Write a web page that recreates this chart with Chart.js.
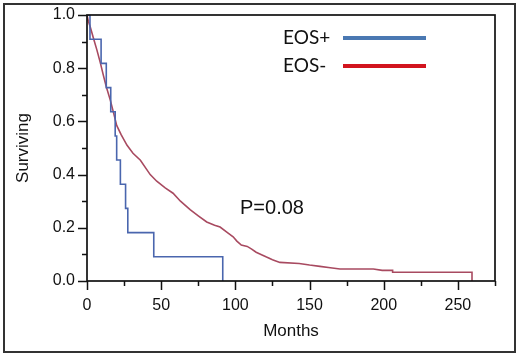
<!DOCTYPE html>
<html>
<head>
<meta charset="utf-8">
<script src="https://cdn.jsdelivr.net/npm/chart.js@4/dist/chart.umd.min.js"></script>
<style>
  html, body { margin: 0; padding: 0; background: #fff; }
  #wrap { width: 520px; height: 356px; }
</style>
</head>
<body>
<div id="wrap"><canvas id="km"></canvas></div>
<script>
// Kaplan-Meier curves (months, surviving fraction)
const eosPosMonths = [0, 2, 9.5, 13, 16, 19, 20, 22.5, 26, 27.5, 45, 91.5];
const eosPosSurv   = [1, 0.909, 0.818, 0.727, 0.636, 0.545, 0.455, 0.364, 0.273, 0.182, 0.091, 0];

const eosNegMonths = [0, 1, 2.2, 4.5, 6.7, 9, 11, 13, 15.7, 18, 20, 23, 27, 31, 36, 42.6, 47, 52.7, 58, 63,
  69.5, 75, 80.7, 86, 89.7, 94, 98.5, 101, 104, 108, 111, 114, 118, 121, 125, 130, 143, 150, 157, 164,
  170.5, 193, 199, 206, 206, 259.5, 259.5];
const eosNegSurv = [1, 0.975, 0.955, 0.91, 0.868, 0.82, 0.774, 0.73, 0.68, 0.63, 0.585, 0.55, 0.51, 0.48, 0.454, 0.40, 0.375, 0.35, 0.33, 0.30,
  0.268, 0.245, 0.222, 0.21, 0.203, 0.185, 0.166, 0.15, 0.135, 0.13, 0.12, 0.108, 0.098, 0.09, 0.08, 0.07, 0.066, 0.06, 0.055, 0.05,
  0.045, 0.045, 0.04, 0.04, 0.033, 0.033, 0];

const yTicks = [0, 0.2, 0.4, 0.6, 0.8, 1.0];
const xTicks = [0, 50, 100, 150, 200, 250];
const seriesNames = ['EOS+', 'EOS-'];
const pValueText = 'P=0.08';

const FONT = "'Liberation Sans', Arial, sans-serif";

function toPoints(xs, ys) {
  return xs.map((x, i) => ({ x: x, y: ys[i] }));
}

// frame, minor/major ticks, legend and p-value
const decor = {
  id: 'decor',
  afterDraw(chart) {
    const ctx = chart.ctx;
    const { left, top, right, bottom } = chart.chartArea;
    const xs = chart.scales.x, ys = chart.scales.y;
    ctx.save();
    ctx.strokeStyle = '#111';
    ctx.lineWidth = 1.7;
    ctx.strokeRect(left, top, right - left, bottom - top);

    ctx.lineWidth = 1.5;
    ctx.beginPath();
    for (let i = 0; i <= 10; i++) {
      const py = Math.round(ys.getPixelForValue(i / 10)) + 0.5;
      const len = i % 2 === 0 ? 9 : 5;
      ctx.moveTo(left - len, py);
      ctx.lineTo(left, py);
    }
    for (let v = 0; v <= 275; v += 25) {
      const px = Math.round(xs.getPixelForValue(v)) + 0.5;
      const len = v % 50 === 0 ? 9 : 5;
      ctx.moveTo(px, bottom);
      ctx.lineTo(px, bottom + len);
    }
    ctx.stroke();

    // outer picture frame
    ctx.strokeStyle = '#333';
    ctx.lineWidth = 2;
    ctx.strokeRect(4, 4, 511, 348);

    // legend: text then line
    ctx.font = "19px Lato, 'Open Sans', sans-serif";
    ctx.fillStyle = '#111';
    ctx.textBaseline = 'middle';
    ctx.textAlign = 'left';
    const legendColors = ['#4a78b2', '#d2141e'];
    seriesNames.forEach((name, i) => {
      const ly = 38 + i * 28;
      ctx.fillText(name, 283, ly);
      ctx.strokeStyle = legendColors[i];
      ctx.lineWidth = 4;
      ctx.beginPath();
      ctx.moveTo(343, ly);
      ctx.lineTo(426, ly);
      ctx.stroke();
    });

    ctx.font = '20px ' + FONT;
    ctx.fillStyle = '#111';
    ctx.fillText(pValueText, 240, 208);
    ctx.restore();
  }
};

new Chart(document.getElementById('km'), {
  type: 'line',
  data: {
    datasets: [
      {
        label: seriesNames[0],
        data: toPoints(eosPosMonths, eosPosSurv),
        borderColor: '#4a66ae',
        borderWidth: 1.6,
        stepped: 'before',
        pointRadius: 0,
        fill: false
      },
      {
        label: seriesNames[1],
        data: toPoints(eosNegMonths, eosNegSurv),
        borderColor: '#a84a60',
        borderWidth: 1.6,
        tension: 0,
        pointRadius: 0,
        fill: false
      }
    ]
  },
  options: {
    responsive: true,
    maintainAspectRatio: false,
    animation: false,
    events: [],
    layout: { padding: { left: 0, top: 15, right: 25, bottom: 0 } },
    plugins: { legend: { display: false }, tooltip: { enabled: false } },
    scales: {
      x: {
        type: 'linear',
        min: 0,
        max: 275,
        afterBuildTicks(scale) { scale.ticks = xTicks.map(v => ({ value: v })); },
        afterFit(scale) { scale.height = 75; },
        grid: { display: false, drawTicks: true, tickLength: 9 },
        border: { display: false },
        ticks: { color: '#111', font: { family: FONT, size: 16 }, padding: 6, maxRotation: 0 },
        title: { display: true, text: 'Months', color: '#111', font: { family: FONT, size: 17 }, padding: { top: 0, bottom: 14 } }
      },
      y: {
        min: 0,
        max: 1,
        afterBuildTicks(scale) { scale.ticks = yTicks.map(v => ({ value: v })); },
        afterFit(scale) { scale.width = 87; },
        grid: { display: false, drawTicks: true, tickLength: 8 },
        border: { display: false },
        ticks: { color: '#111', font: { family: FONT, size: 16 }, padding: 4, callback: v => v.toFixed(1) },
        title: { display: true, text: 'Surviving', color: '#111', font: { family: FONT, size: 17 }, padding: { top: 13, bottom: 0 } }
      }
    }
  },
  plugins: [decor]
});
</script>
</body>
</html>
